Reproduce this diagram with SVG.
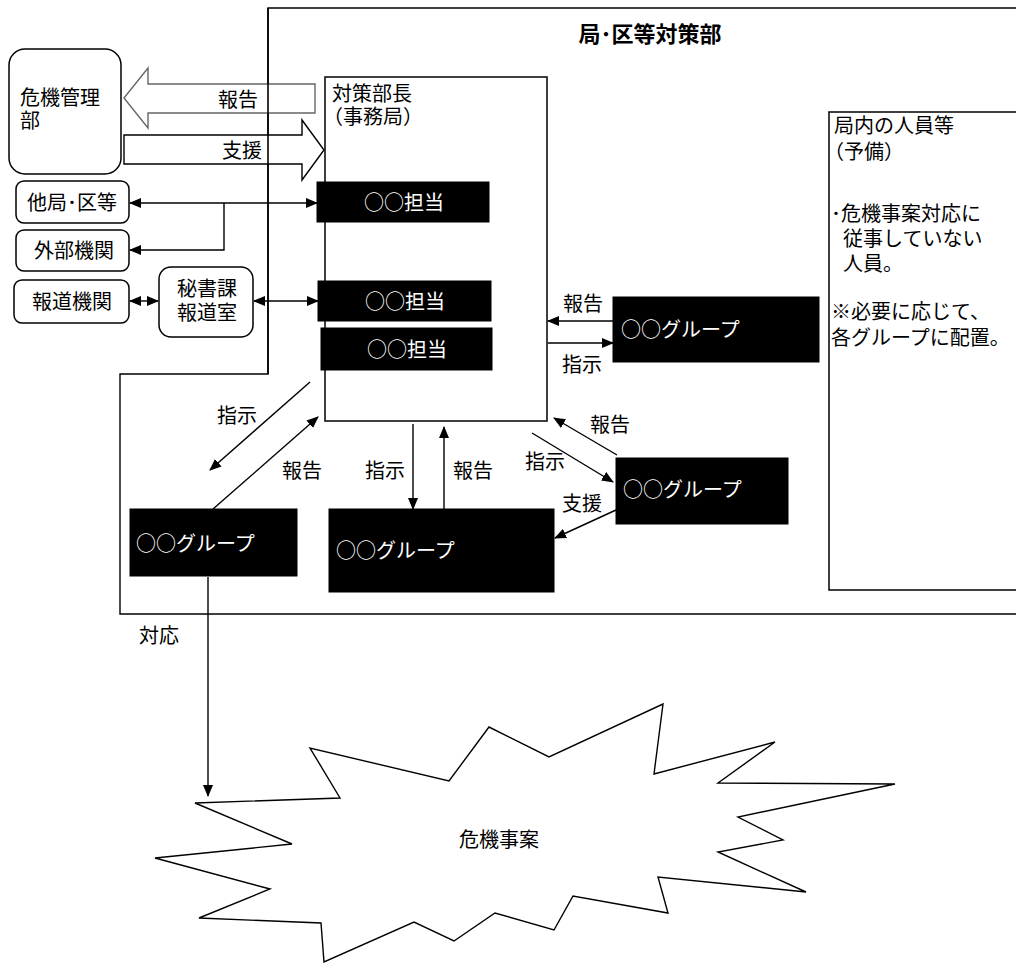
<svg xmlns="http://www.w3.org/2000/svg" width="1016" height="963" viewBox="0 0 1016 963">
<style>
text{font-family:"Noto Sans CJK JP","Noto Sans CJK SC",sans-serif;font-size:20px;fill:#000}
.w{fill:#fff}
.title{font-weight:bold;font-size:22px}
.box{fill:#fff;stroke:#000;stroke-width:1.5}
.blk{fill:#000;stroke:#000}
.ln{fill:none;stroke:#000;stroke-width:1.4}
</style>
<defs>
<marker id="ah" markerUnits="userSpaceOnUse" markerWidth="12" markerHeight="10" refX="11" refY="5" orient="auto-start-reverse">
<path d="M0,0 L12,5 L0,10 z" fill="#000"/>
</marker>
</defs>
<rect width="1016" height="963" fill="#fff"/>

<g id="frame">
<path class="ln" stroke-width="1.6" d="M268,8 H1020 V614 H120 V374 H268 Z"/>
<text class="title" x="650" y="42" text-anchor="middle">局･区等対策部</text>
</g>

<g id="kikikanri">
<rect class="box" x="9" y="49" width="112" height="125" rx="16"/>
<text x="20" y="105">危機管理<tspan x="20" dy="23">部</tspan></text>
</g>

<g id="arrow-houkoku">
<path d="M124,98 L148,68 V84 H315 V113 H148 V128 Z" fill="#fff" stroke="#666" stroke-width="1.4"/>
<text x="238" y="107" text-anchor="middle">報告</text>
</g>
<g id="arrow-shien">
<path d="M124,135 H302 V120 L324,150 L302,180 V164 H124 Z" fill="#fff" stroke="#000" stroke-width="1.4"/>
<text x="242" y="158" text-anchor="middle">支援</text>
</g>

<g id="frame-left">
<line x1="268" y1="8" x2="268" y2="374" stroke="#000" stroke-width="1.6"/>
</g>

<g id="taisakubucho">
<rect class="box" x="325" y="77" width="222" height="344"/>
<text x="332" y="101">対策部長<tspan x="323" dy="23">（事務局）</tspan></text>
</g>

<g id="tantou1">
<rect class="blk" x="317" y="182" width="172" height="40"/>
<text class="w" x="404" y="210" text-anchor="middle">○○担当</text>
</g>
<g id="tantou2">
<rect class="blk" x="318" y="281" width="173" height="40"/>
<text class="w" x="405" y="309" text-anchor="middle">○○担当</text>
</g>
<g id="tantou3">
<rect class="blk" x="321" y="328" width="171" height="42"/>
<text class="w" x="407" y="357" text-anchor="middle">○○担当</text>
</g>

<g id="takyoku">
<rect class="box" x="16" y="181" width="113" height="42" rx="8"/>
<text x="72" y="210" text-anchor="middle">他局･区等</text>
</g>
<g id="gaibu">
<rect class="box" x="16" y="230" width="113" height="41" rx="8"/>
<text x="74" y="258" text-anchor="middle">外部機関</text>
</g>
<g id="houdou">
<rect class="box" x="14" y="280" width="115" height="43" rx="8"/>
<text x="72" y="309" text-anchor="middle">報道機関</text>
</g>
<g id="hisho">
<rect class="box" x="159" y="267" width="94" height="70" rx="12"/>
<text x="207" y="296" text-anchor="middle">秘書課<tspan x="207" dy="24">報道室</tspan></text>
</g>

<g id="group-r1">
<rect class="blk" x="613" y="297" width="206" height="65"/>
<text class="w" x="621" y="337">○○グループ</text>
</g>
<g id="group-r2">
<rect class="blk" x="616" y="458" width="172" height="66"/>
<text class="w" x="623" y="497">○○グループ</text>
</g>
<g id="group-bl">
<rect class="blk" x="130" y="509" width="167" height="67"/>
<text class="w" x="136" y="551">○○グループ</text>
</g>
<g id="group-bm">
<rect class="blk" x="329" y="509" width="225" height="83"/>
<text class="w" x="336" y="558">○○グループ</text>
</g>

<g id="reserve">
<rect class="box" x="829" y="112" width="200" height="478"/>
<text x="834" y="133">局内の人員等<tspan x="824" dy="26">（予備）</tspan><tspan x="831" dy="62">･危機事案対応に</tspan><tspan x="843" dy="25">従事していない</tspan><tspan x="843" dy="25">人員。</tspan><tspan x="831" dy="48">※必要に応じて、</tspan><tspan x="831" dy="26">各グループに配置。</tspan></text>
</g>

<g id="connectors">
<line class="ln" x1="130" y1="203" x2="317" y2="203" marker-start="url(#ah)" marker-end="url(#ah)"/>
<polyline class="ln" points="224,203 224,250 130,250" marker-end="url(#ah)"/>
<line class="ln" x1="130" y1="301" x2="158" y2="301" marker-start="url(#ah)" marker-end="url(#ah)"/>
<line class="ln" x1="254" y1="301" x2="318" y2="301" marker-start="url(#ah)" marker-end="url(#ah)"/>
<line class="ln" x1="613" y1="321" x2="548" y2="321" marker-end="url(#ah)"/>
<line class="ln" x1="548" y1="343" x2="613" y2="343" marker-end="url(#ah)"/>
<line class="ln" x1="617" y1="455" x2="554" y2="418" marker-end="url(#ah)"/>
<line class="ln" x1="532" y1="433" x2="613" y2="482" marker-end="url(#ah)"/>
<line class="ln" x1="616" y1="510" x2="555" y2="538" marker-end="url(#ah)"/>
<line class="ln" x1="310" y1="382" x2="210" y2="470" marker-end="url(#ah)"/>
<line class="ln" x1="213" y1="509" x2="318" y2="417" marker-end="url(#ah)"/>
<line class="ln" x1="413" y1="424" x2="413" y2="509" marker-end="url(#ah)"/>
<line class="ln" x1="444" y1="509" x2="444" y2="427" marker-end="url(#ah)"/>
<line class="ln" x1="208" y1="577" x2="208" y2="796" marker-end="url(#ah)"/>
<text x="563" y="311">報告</text>
<text x="562" y="372">指示</text>
<text x="590" y="432">報告</text>
<text x="525" y="469">指示</text>
<text x="562" y="511">支援</text>
<text x="217" y="423">指示</text>
<text x="282" y="478">報告</text>
<text x="365" y="478">指示</text>
<text x="453" y="478">報告</text>
<text x="139" y="643">対応</text>
</g>

<g id="kiki-jian">
<polygon fill="#fff" stroke="#000" stroke-width="1.4" points="195,803 340,798 310,748 449,781 489,727 549,757 663,704 654,774 775,742 718,783 895,784 738,817 783,840 718,852 806,892 658,877 668,913 573,896 554,930 495,913 454,941 414,922 324,962 321,923 199,918 270,889 155,858 292,844"/>
<text x="499" y="847" text-anchor="middle">危機事案</text>
</g>
</svg>
